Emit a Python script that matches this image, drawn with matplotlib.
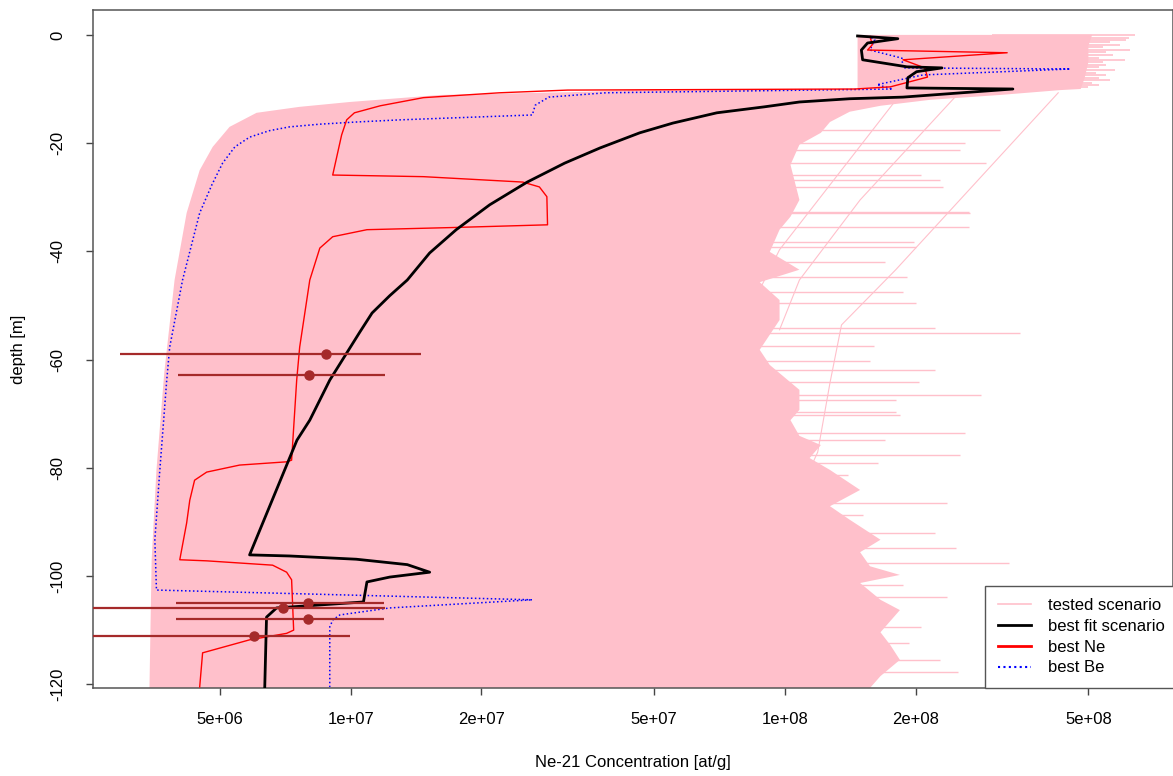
import matplotlib
matplotlib.use("Agg")
import matplotlib.pyplot as plt
from matplotlib.lines import Line2D
from matplotlib.ticker import NullLocator

plt.rcParams["font.family"] = ["Liberation Sans", "DejaVu Sans"]

# envelope of all tested scenarios: left edge and the dense part of the right edge
env_left_depth = [0, -10.0, -10.0, -10.5, -11.1, -12.4, -13.3, -14.4, -17.0, -20.7,
                  -25.0, -32.9, -45.3, -62.5, -80.4, -97.0, -120.7]
env_left_conc = [1.47e8, 1.47e8, 5.0e7, 3.55e7, 1.61e7, 9.95e6, 7.62e6, 6.07e6, 5.26e6, 4.81e6,
                 4.49e6, 4.19e6, 3.93e6, 3.72e6, 3.57e6, 3.48e6, 3.44e6]

env_right_depth = [0, -2.0, -5.0, -8.0, -10.0,
                   -10.2, -11.1, -12.0, -13.1, -14.2, -16.1, -18.1, -20.3, -24.0, -30.5,
                   -33.6, -36.0, -40.1, -43.4, -45.7, -49.0, -52.7, -58.2, -61.0, -65.6,
                   -69.3, -71.2, -74.1, -75.8, -78.2, -80.4, -84.1, -87.1, -89.6, -93.3,
                   -95.6, -98.2, -99.8, -101.3, -104.4, -106.3, -110.4, -112.8, -115.5,
                   -118.5, -120.7]
env_right_conc = [5.1e8, 5.0e8, 5.0e8, 4.9e8, 4.8e8,
                  4.31e8, 3.13e8, 2.16e8, 1.66e8, 1.41e8, 1.27e8, 1.21e8, 1.08e8, 1.03e8, 1.08e8,
                  1.03e8, 9.72e7, 9.23e7, 1.08e8, 8.75e7, 9.72e7, 9.72e7, 8.75e7, 9.23e7, 1.08e8,
                  1.08e8, 1.03e8, 1.08e8, 1.21e8, 1.14e8, 1.27e8, 1.49e8, 1.27e8, 1.41e8, 1.66e8,
                  1.49e8, 1.57e8, 1.84e8, 1.49e8, 1.66e8, 1.84e8, 1.66e8, 1.75e8, 1.84e8,
                  1.66e8, 1.57e8]

# single scenarios reaching out beyond the dense part (upper block, then below 10 m)
top_spike_depth = [-0.1, -0.5, -0.9, -1.4, -1.8, -2.3, -2.8, -3.2, -3.7, -4.2, -4.6,
                   -5.0, -5.5, -6.0, -6.5, -7.0, -7.4, -7.9, -8.3, -8.8, -9.2, -9.7]
top_spike_conc = [6.40e8, 6.20e8, 6.10e8, 5.60e8, 5.90e8, 5.40e8, 6.23e8, 5.50e8, 5.70e8, 5.30e8,
                  6.07e8, 5.40e8, 5.50e8, 5.30e8, 5.76e8, 5.20e8, 5.50e8, 5.30e8, 5.61e8, 5.10e8,
                  5.30e8, 5.00e8]
spike_depth = [-17.6, -20.0, -21.3, -23.7, -25.9, -26.8, -28.1, -32.7, -32.9, -35.5,
               -38.3, -39.2, -42.0, -44.7, -47.5, -49.5, -54.2, -55.1, -57.5, -60.3,
               -61.9, -64.2, -66.5, -67.5, -69.7, -70.2, -73.6, -74.9, -77.6, -79.1,
               -81.3, -86.5, -88.7, -92.1, -94.8, -97.6, -101.7, -103.9, -109.4,
               -112.4, -115.5, -117.7]
spike_conc = [3.13e8, 2.60e8, 2.53e8, 2.90e8, 2.06e8, 2.28e8, 2.31e8, 2.66e8, 2.67e8, 2.66e8,
              1.98e8, 2.00e8, 1.70e8, 1.91e8, 1.87e8, 2.00e8, 2.22e8, 3.48e8, 1.60e8, 1.57e8,
              2.22e8, 2.04e8, 2.83e8, 1.80e8, 1.80e8, 1.84e8, 2.60e8, 1.70e8, 2.53e8, 1.64e8,
              1.40e8, 2.36e8, 1.51e8, 2.22e8, 2.48e8, 3.28e8, 1.87e8, 2.36e8, 2.06e8,
              1.93e8, 2.28e8, 2.51e8]

# a few single tested scenarios crossing the right side
stray_a_conc = [4.26e8, 1.80e8, 1.35e8, 1.27e8, 1.19e8, 1.14e8]
stray_a_depth = [-10.7, -43.4, -53.6, -64.3, -77.1, -80.4]
stray_b_conc = [2.53e8, 1.49e8, 1.08e8, 9.72e7]
stray_b_depth = [-10.5, -30.5, -45.3, -54.5]
stray_c_conc = [1.84e8, 9.72e7, 7.87e7, 7.08e7]
stray_c_depth = [-11.1, -39.7, -54.5, -71.2]

# best fit scenario
fit_depth = [-0.2, -0.7, -1.5, -2.8, -4.6, -5.9, -6.1, -6.8, -7.9, -9.8, -10.0,
             -11.5, -11.8, -12.4, -13.3, -14.4, -16.3, -18.1, -20.9, -23.7, -27.2,
             -31.4, -36.0, -40.3, -45.3, -48.2, -51.4, -54.9, -58.8, -63.8, -71.2,
             -74.9, -96.1, -96.3, -96.9, -97.9, -99.3, -100.2, -101.1, -104.8, -105.9,
             -107.6, -120.5]
fit_conc = [1.47e8, 1.82e8, 1.55e8, 1.50e8, 1.51e8, 1.91e8, 2.30e8, 2.01e8, 1.92e8, 1.91e8, 3.35e8,
            1.87e8, 1.41e8, 1.08e8, 8.96e7, 6.97e7, 5.52e7, 4.63e7, 3.75e7, 3.11e7, 2.55e7,
            2.09e7, 1.75e7, 1.52e7, 1.35e7, 1.23e7, 1.12e7, 1.05e7, 9.79e6, 8.95e6, 8.05e6,
            7.52e6, 5.85e6, 7.23e6, 1.03e7, 1.35e7, 1.52e7, 1.23e7, 1.09e7, 1.07e7, 6.75e6,
            6.40e6, 6.34e6]

# best Ne-21 scenario
ne_depth = [-0.3, -1.8, -2.8, -3.3, -4.6, -6.1, -7.8, -9.6, -10.0,
            -10.2, -10.7, -11.6, -13.1, -14.4, -15.7, -18.5, -25.9, -26.2, -27.2,
            -28.1, -29.9, -35.1, -35.6, -36.0, -37.3, -39.4, -45.3, -57.7, -63.8,
            -78.6, -78.9, -79.5, -80.8, -82.3, -86.0, -90.2, -97.0, -97.2, -98.0,
            -99.3, -100.7, -110.0, -110.6, -111.8, -114.2, -120.5]
ne_conc = [1.57e8, 1.59e8, 1.55e8, 3.25e8, 1.87e8, 2.10e8, 2.13e8, 1.75e8, 1.45e8,
           3.16e7, 2.20e7, 1.47e7, 1.17e7, 1.02e7, 9.79e6, 9.53e6, 9.09e6, 1.47e7, 2.49e7,
           2.72e7, 2.83e7, 2.84e7, 1.72e7, 1.09e7, 9.09e6, 8.49e6, 8.05e6, 7.63e6, 7.51e6,
           7.31e6, 7.12e6, 5.55e6, 4.66e6, 4.37e6, 4.26e6, 4.19e6, 4.04e6, 4.66e6, 6.61e6,
           7.12e6, 7.31e6, 7.39e6, 7.12e6, 5.85e6, 4.56e6, 4.49e6]

# best Be-10 scenario
be_depth = [-0.5, -0.9, -2.8, -4.3, -6.1, -6.3, -7.4, -9.2, -10.0, -10.7,
            -11.5, -13.0, -14.8, -15.7, -16.1, -16.5, -17.0, -17.7, -18.9, -20.7,
            -23.7, -27.7, -32.9, -45.3, -57.7, -63.8, -81.0, -93.3, -102.6, -104.4,
            -105.9, -107.2, -108.1, -109.4, -120.5]
be_conc = [1.58e8, 1.61e8, 1.57e8, 1.86e8, 1.87e8, 4.54e8, 2.08e8, 1.63e8, 1.77e8, 3.87e7,
           2.86e7, 2.66e7, 2.62e7, 1.30e7, 1.03e7, 8.49e6, 7.23e6, 6.50e6, 5.85e6, 5.41e6,
           5.07e6, 4.79e6, 4.49e6, 4.10e6, 3.83e6, 3.77e6, 3.63e6, 3.54e6, 3.57e6, 2.62e7,
           1.23e7, 9.44e6, 9.10e6, 8.95e6, 8.95e6]

# measured Ne-21 samples
obs_depth = [-59.0, -62.8, -105.0, -106.0, -108.0, -111.1]
obs_conc = [8.75e6, 8.0e6, 7.96e6, 6.97e6, 7.96e6, 5.98e6]
obs_err = [5.8e6, 4.0e6, 4.0e6, 5.0e6, 4.0e6, 4.0e6]

x_ticks = [5e6, 1e7, 2e7, 5e7, 1e8, 2e8, 5e8]
x_tick_labels = ["5e+06", "1e+07", "2e+07", "5e+07", "1e+08", "2e+08", "5e+08"]
y_ticks = [0, -20, -40, -60, -80, -100, -120]

legend_labels = ["tested scenario", "best fit scenario", "best Ne", "best Be"]

W, H = 1173, 776
fig = plt.figure(figsize=(W / 100, H / 100), dpi=100)
ax = fig.add_axes([93 / W, 88 / H, 1 - 93 / W, 678 / H])

env_conc = env_left_conc + env_right_conc[::-1]
env_depth = env_left_depth + env_right_depth[::-1]
ax.fill(env_conc, env_depth, color="pink", lw=0, zorder=1)
ax.hlines(top_spike_depth, 3e8, top_spike_conc, color="pink", lw=1.2, zorder=1)
ax.hlines(spike_depth, 5e7, spike_conc, color="pink", lw=1.0, zorder=1)
for c, d in [(stray_a_conc, stray_a_depth), (stray_b_conc, stray_b_depth),
             (stray_c_conc, stray_c_depth)]:
    ax.plot(c, d, color="pink", lw=0.8, zorder=1)

ax.plot(be_conc, be_depth, color="blue", lw=1.1, ls=(0, (1, 1.6)), zorder=3)
ax.plot(ne_conc, ne_depth, color="red", lw=1.0, zorder=4)
ax.plot(fit_conc, fit_depth, color="black", lw=2.0, zorder=5)
ax.errorbar(obs_conc, obs_depth, xerr=obs_err, fmt="o", color="#A52A2A",
            ms=6.5, elinewidth=1.6, capsize=0, zorder=6)

ax.set_xscale("log")
ax.set_xlim(2.55e6, 7.83e8)
ax.set_ylim(-120.7, 4.6)
ax.set_xticks(x_ticks)
ax.set_xticklabels(x_tick_labels)
ax.xaxis.set_minor_locator(NullLocator())
ax.set_yticks(y_ticks)
ax.set_yticklabels([str(v) for v in y_ticks], rotation=90, va="center")
ax.tick_params(axis="both", length=5, width=1, color="#444444", labelsize=12)
ax.tick_params(axis="x", pad=12)
ax.tick_params(axis="y", pad=15)
for s in ax.spines.values():
    s.set_color("#555555")
    s.set_linewidth(1.1)

handles = [Line2D([], [], color="pink", lw=1.2),
           Line2D([], [], color="black", lw=2),
           Line2D([], [], color="red", lw=2),
           Line2D([], [], color="blue", lw=1.5, ls=(0, (1, 1.6)))]
leg = ax.legend(handles, legend_labels, loc="lower right", bbox_to_anchor=(1.004, 0.0),
                borderaxespad=0, fancybox=False, edgecolor="#555555", framealpha=1,
                fontsize=12, handlelength=2.0, handletextpad=1.0, labelspacing=0.35,
                borderpad=0.75)
leg.get_frame().set_linewidth(1.0)
leg.set_zorder(10)

fig.text(633 / W, 1 - 762 / H, "Ne-21 Concentration [at/g]", ha="center", va="center", fontsize=12)
fig.text(18 / W, 1 - 349 / H, "depth [m]", ha="center", va="center", rotation=90, fontsize=12)

fig.savefig("out.png", dpi=100)
